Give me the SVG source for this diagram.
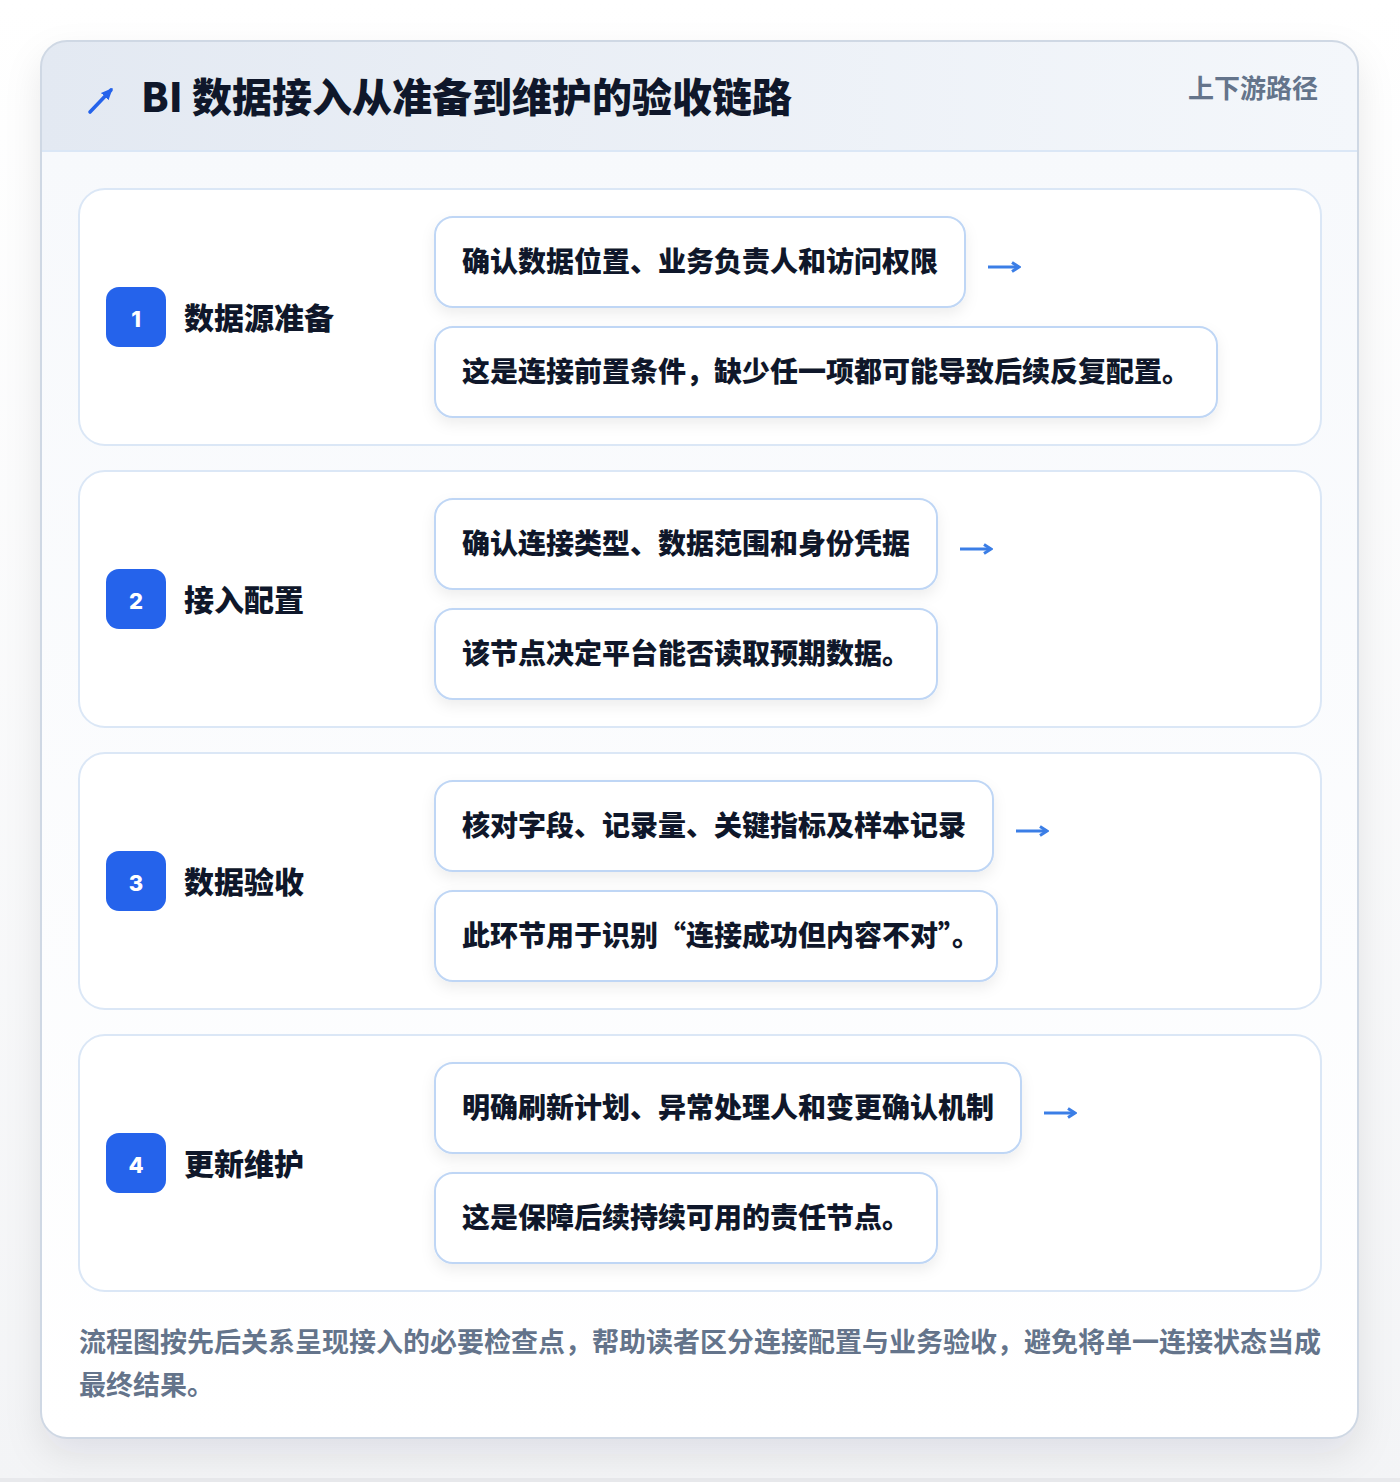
<svg xmlns="http://www.w3.org/2000/svg" width="1400" height="1482" viewBox="0 0 1400 1482">
<defs>
<linearGradient id="hdr" x1="0" y1="0" x2="1" y2="0">
<stop offset="0" stop-color="#e3e9f2"/>
<stop offset="1" stop-color="#f4f7fb"/>
</linearGradient>
<linearGradient id="body" x1="0" y1="0" x2="0" y2="1">
<stop offset="0" stop-color="#f7f9fc"/>
<stop offset="1" stop-color="#ffffff"/>
</linearGradient>
<linearGradient id="bg" x1="0" y1="0" x2="0" y2="1">
<stop offset="0" stop-color="#ffffff"/>
<stop offset="1" stop-color="#f3f4f6"/>
</linearGradient>
<filter id="cardShadow" x="-10%" y="-10%" width="120%" height="120%">
<feDropShadow dx="0" dy="16" stdDeviation="18" flood-color="#0f172a" flood-opacity="0.09"/>
</filter>
<filter id="boxShadow" x="-10%" y="-20%" width="120%" height="150%">
<feDropShadow dx="0" dy="6" stdDeviation="7" flood-color="#0f172a" flood-opacity="0.07"/>
</filter>
<clipPath id="cardClip"><rect x="41" y="41" width="1317" height="1397" rx="26"/></clipPath>
<marker id="ah" viewBox="0 0 12 12" refX="10" refY="6" markerWidth="12" markerHeight="12" markerUnits="userSpaceOnUse" orient="auto">
<path d="M3 1.5 L10 6 L3 10.5" fill="none" stroke="#3b7ee6" stroke-width="3"/>
</marker>
<marker id="ahIcon" viewBox="0 0 10 10" refX="7" refY="5" markerWidth="13" markerHeight="13" markerUnits="userSpaceOnUse" orient="auto">
<path d="M0 1 L9 5 L0 9 Z" fill="#2563eb"/>
</marker>
</defs>
<style>
text{font-family:"Noto Sans CJK SC","Noto Sans",sans-serif;}
.title{font-size:40px;font-weight:800;fill:#0f172a;}
.tag{font-size:26px;font-weight:700;fill:#64748b;}
.sec{fill:#ffffff;stroke:#dbe7f6;stroke-width:2;}
.badge{fill:#2563eb;}
.num{font-size:22px;font-weight:800;fill:#ffffff;font-family:"Inter","Noto Sans",sans-serif;}
.lbl{font-size:30px;font-weight:800;fill:#0f172a;}
.box{fill:#ffffff;stroke:#bfd6f5;stroke-width:2;filter:url(#boxShadow);}
.bt{font-size:28px;font-weight:800;fill:#0f172a;}
.foot{font-size:27px;font-weight:700;fill:#64748b;}
.conn{stroke:#3b7ee6;stroke-width:3;fill:none;marker-end:url(#ah);}
</style>
<rect x="0" y="0" width="1400" height="1482" fill="url(#bg)"/>
<rect x="0" y="1478" width="1400" height="4" fill="#e8e9ec"/>
<g id="card">
<rect x="41" y="41" width="1317" height="1397" rx="26" fill="#ffffff" filter="url(#cardShadow)"/>
<g clip-path="url(#cardClip)">
<rect x="41" y="151" width="1317" height="1287" fill="url(#body)"/>
<rect x="41" y="41" width="1317" height="110" fill="url(#hdr)"/>
<line x1="41" y1="151" x2="1358" y2="151" stroke="#dbe7f6" stroke-width="2"/>
</g>
<rect x="41" y="41" width="1317" height="1397" rx="26" fill="none" stroke="#cfd8e4" stroke-width="2"/>
</g>
<g id="header">
<path d="M90 112 L111 90" stroke="#2563eb" stroke-width="3.6" stroke-linecap="round" marker-end="url(#ahIcon)"/>
<text class="title" x="141" y="112">BI 数据接入从准备到维护的验收链路</text>
<text class="tag" x="1318" y="98" text-anchor="end">上下游路径</text>
</g>
<g id="step1">
<rect class="sec" x="79" y="189" width="1242" height="256" rx="26"/>
<rect class="badge" x="106" y="287" width="60" height="60" rx="13"/>
<text class="num" x="136" y="327" text-anchor="middle">1</text>
<text class="lbl" x="184" y="329">数据源准备</text>
<rect class="box" x="435" y="217" width="530" height="90" rx="18"/>
<text class="bt" x="462" y="272">确认数据位置、业务负责人和访问权限</text>
<rect class="box" x="435" y="327" width="782" height="90" rx="18"/>
<text class="bt" x="462" y="382">这是连接前置条件，缺少任一项都可能导致后续反复配置。</text>
</g>
<g id="step2">
<rect class="sec" x="79" y="471" width="1242" height="256" rx="26"/>
<rect class="badge" x="106" y="569" width="60" height="60" rx="13"/>
<text class="num" x="136" y="609" text-anchor="middle">2</text>
<text class="lbl" x="184" y="611">接入配置</text>
<rect class="box" x="435" y="499" width="502" height="90" rx="18"/>
<text class="bt" x="462" y="554">确认连接类型、数据范围和身份凭据</text>
<rect class="box" x="435" y="609" width="502" height="90" rx="18"/>
<text class="bt" x="462" y="664">该节点决定平台能否读取预期数据。</text>
</g>
<g id="step3">
<rect class="sec" x="79" y="753" width="1242" height="256" rx="26"/>
<rect class="badge" x="106" y="851" width="60" height="60" rx="13"/>
<text class="num" x="136" y="891" text-anchor="middle">3</text>
<text class="lbl" x="184" y="893">数据验收</text>
<rect class="box" x="435" y="781" width="558" height="90" rx="18"/>
<text class="bt" x="462" y="836">核对字段、记录量、关键指标及样本记录</text>
<rect class="box" x="435" y="891" width="562" height="90" rx="18"/>
<text class="bt" x="462" y="946">此环节用于识别“连接成功但内容不对”。</text>
</g>
<g id="step4">
<rect class="sec" x="79" y="1035" width="1242" height="256" rx="26"/>
<rect class="badge" x="106" y="1133" width="60" height="60" rx="13"/>
<text class="num" x="136" y="1173" text-anchor="middle">4</text>
<text class="lbl" x="184" y="1175">更新维护</text>
<rect class="box" x="435" y="1063" width="586" height="90" rx="18"/>
<text class="bt" x="462" y="1118">明确刷新计划、异常处理人和变更确认机制</text>
<rect class="box" x="435" y="1173" width="502" height="90" rx="18"/>
<text class="bt" x="462" y="1228">这是保障后续持续可用的责任节点。</text>
</g>
<g id="connectors">
<path class="conn" d="M988 267 L1019 267"/>
<path class="conn" d="M960 549 L991 549"/>
<path class="conn" d="M1016 831 L1047 831"/>
<path class="conn" d="M1044 1113 L1075 1113"/>
</g>
<g id="footer">
<text class="foot" x="79" y="1352">流程图按先后关系呈现接入的必要检查点，帮助读者区分连接配置与业务验收，避免将单一连接状态当成</text>
<text class="foot" x="79" y="1395">最终结果。</text>
</g>
</svg>
